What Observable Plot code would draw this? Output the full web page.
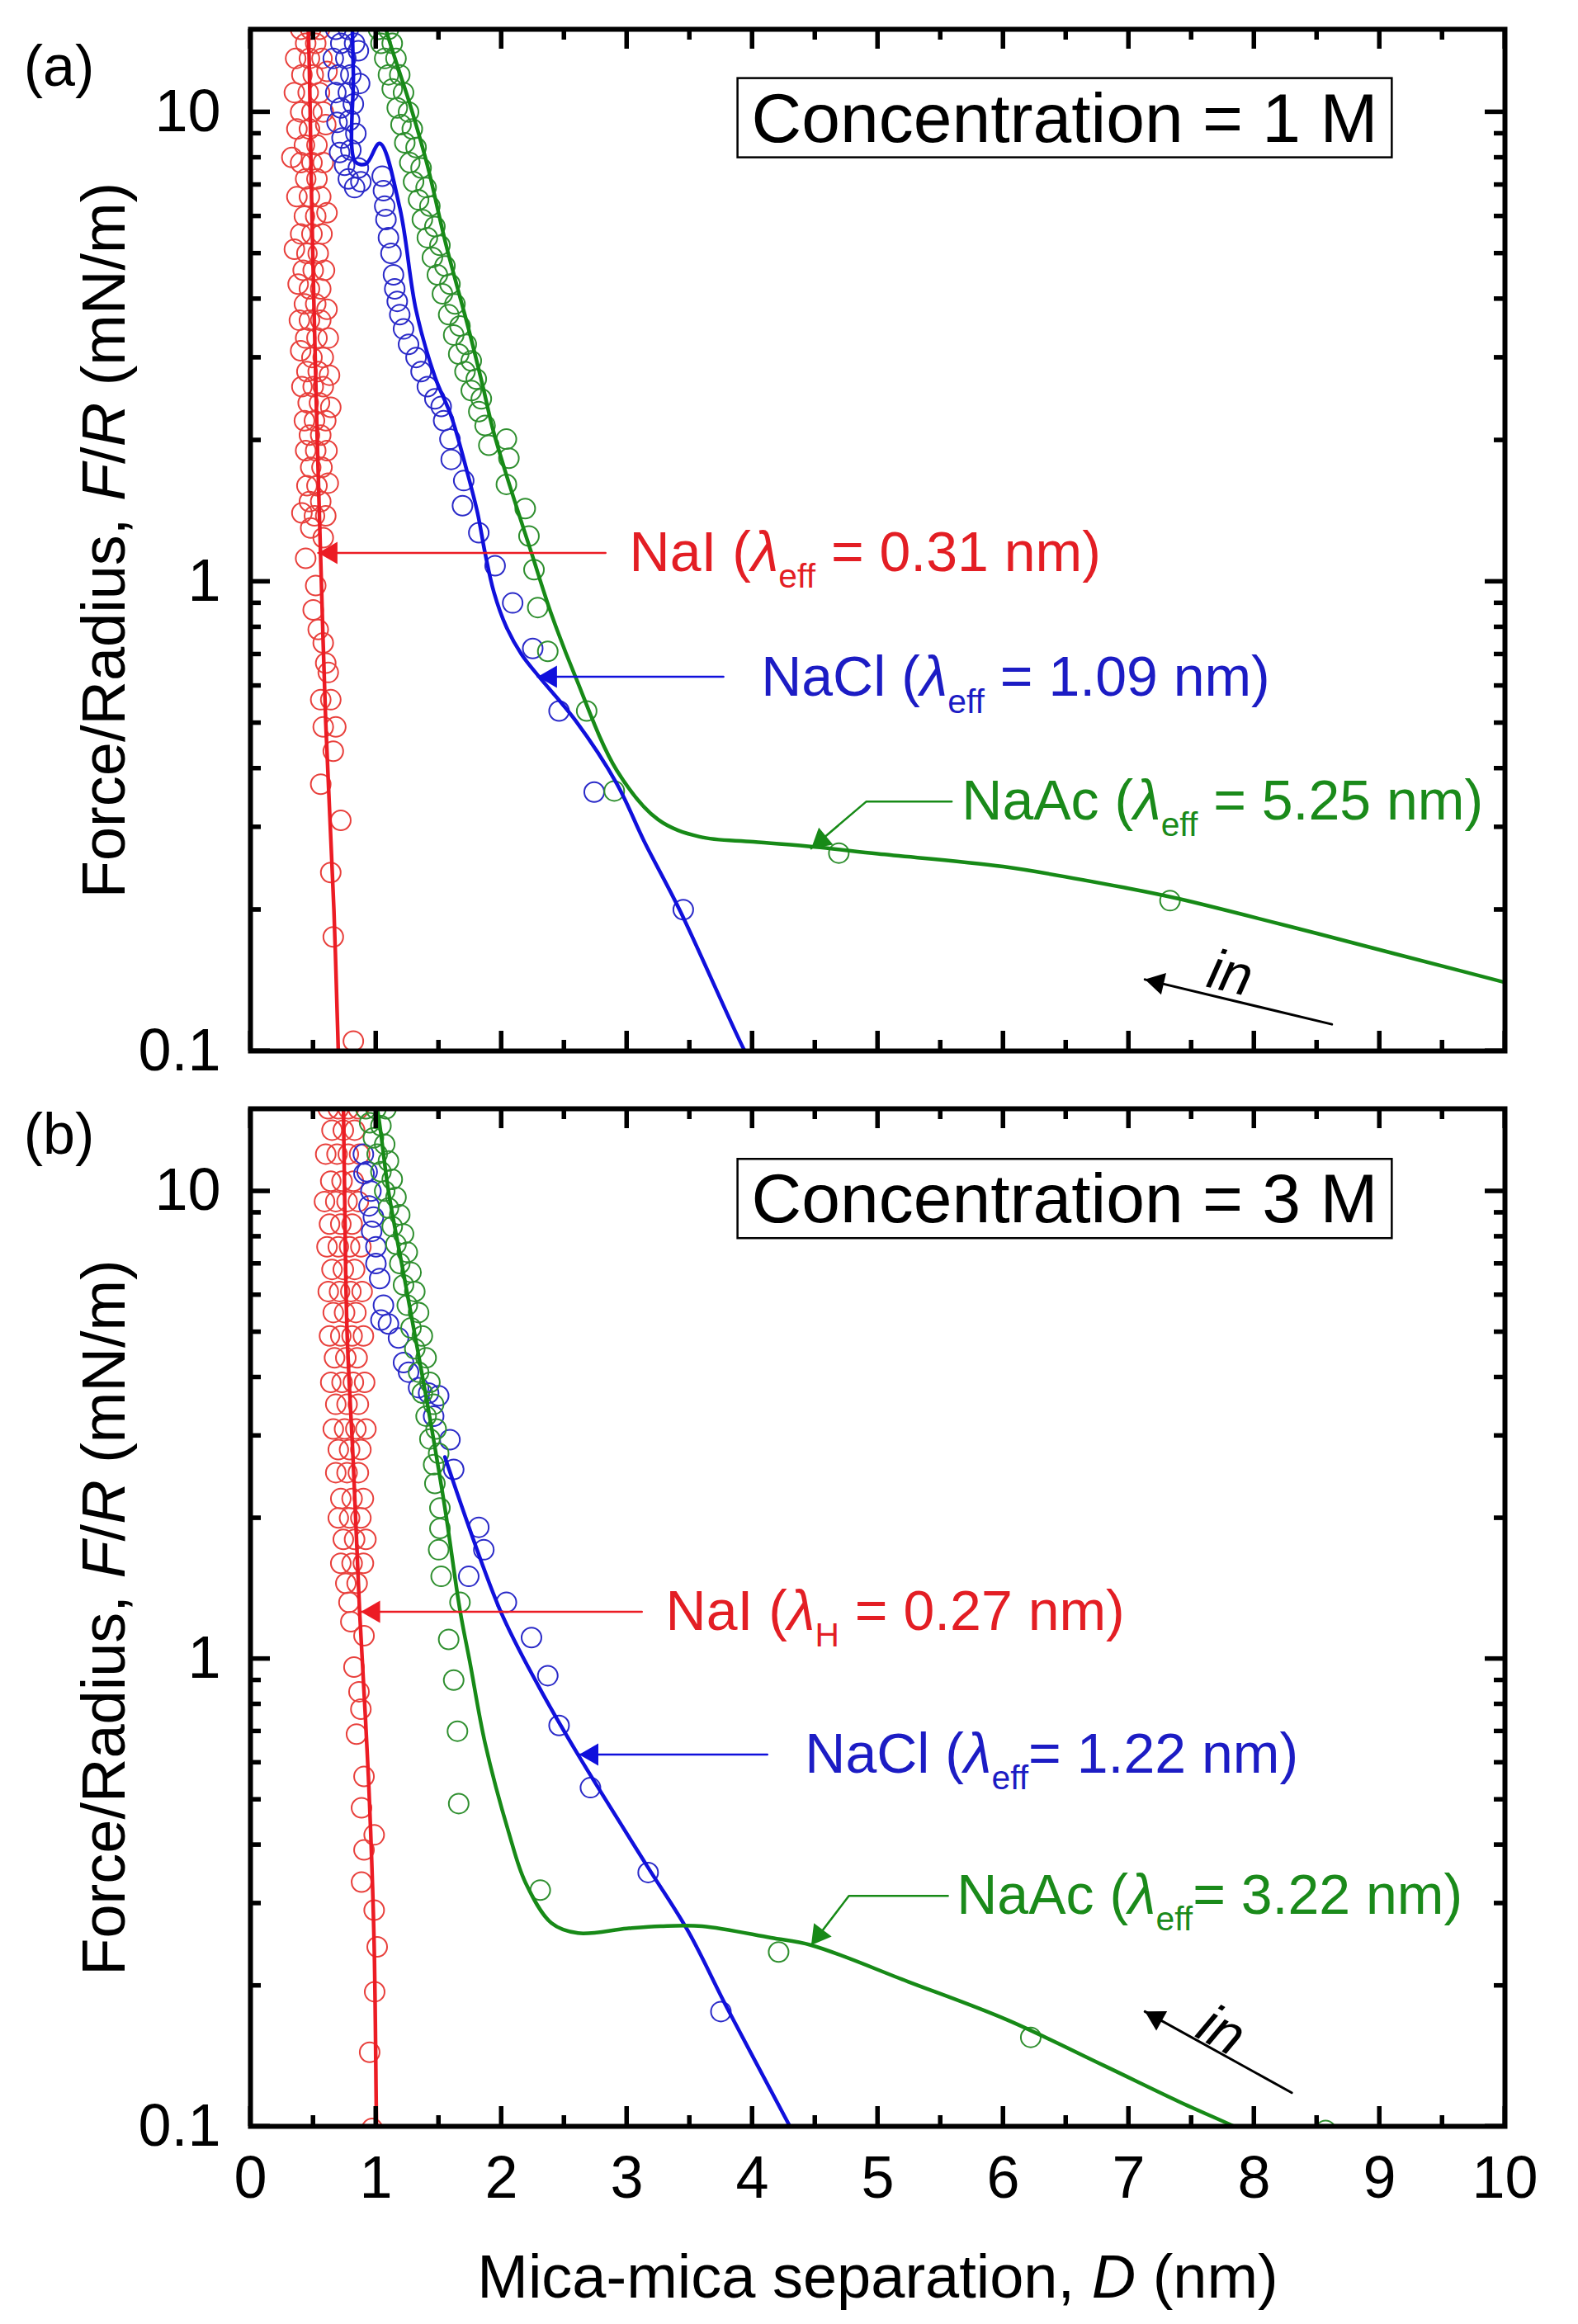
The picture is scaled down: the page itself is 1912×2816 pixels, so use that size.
<!DOCTYPE html>
<html>
<head>
<meta charset="utf-8">
<script src="https://cdn.jsdelivr.net/npm/d3@7"></script>
<script src="https://cdn.jsdelivr.net/npm/@observablehq/plot@0.6"></script>
<style>
  body { margin: 0; background: #fff; }
  #chart svg { display: block; overflow: visible; }
</style>
</head>
<body>
<div id="chart"></div>
<script>
// axis ticks
const xTicks = [0, 1, 2, 3, 4, 5, 6, 7, 8, 9, 10];
const xMinor = [0.5, 1.5, 2.5, 3.5, 4.5, 5.5, 6.5, 7.5, 8.5, 9.5];
const yTicks = [0.1, 1, 10];
const yMinor = [0.2, 0.3, 0.4, 0.5, 0.6, 0.7, 0.8, 0.9, 2, 3, 4, 5, 6, 7, 8, 9];

// ---- panel (a), 1 M : [D (nm), F/R (mN/m)]
const naiPtsA = [
  [0.40,15],[0.48,15],[0.55,15],[0.44,14],[0.52,14],[0.36,13],[0.47,13],[0.57,13],[0.41,12],[0.50,12],[0.61,12.2],
  [0.35,11],[0.46,11],[0.55,11],[0.40,10],[0.49,10],[0.58,10],[0.37,9.2],[0.47,9.2],[0.60,9.4],[0.43,8.5],[0.53,8.5],
  [0.33,8],[0.40,7.8],[0.49,7.8],[0.58,7.8],[0.44,7.2],[0.53,7.2],[0.37,6.6],[0.47,6.6],[0.56,6.6],[0.43,6],[0.52,6],
  [0.61,6.1],[0.40,5.5],[0.49,5.5],[0.57,5.5],[0.35,5.1],[0.45,5],[0.54,5],[0.42,4.6],[0.50,4.6],[0.59,4.6],[0.38,4.3],
  [0.47,4.2],[0.56,4.2],[0.43,3.9],[0.52,3.9],[0.61,3.8],[0.39,3.6],[0.47,3.6],[0.56,3.6],[0.44,3.3],[0.53,3.3],[0.62,3.3],
  [0.40,3.1],[0.49,3],[0.58,3],[0.45,2.8],[0.54,2.8],[0.63,2.75],[0.41,2.6],[0.50,2.6],[0.58,2.6],[0.46,2.4],[0.55,2.4],
  [0.64,2.35],[0.43,2.2],[0.51,2.2],[0.60,2.2],[0.47,2.05],[0.56,2.05],[0.44,1.9],[0.52,1.9],[0.61,1.9],[0.48,1.75],
  [0.57,1.75],[0.45,1.6],[0.53,1.6],[0.62,1.62],[0.47,1.48],[0.56,1.48],[0.41,1.4],[0.51,1.38],[0.60,1.38],[0.48,1.3],
  [0.44,1.12],[0.58,1.24],[0.52,0.98],[0.50,0.87],[0.54,0.79],[0.58,0.74],[0.60,0.67],[0.62,0.64],[0.56,0.56],
  [0.64,0.56],[0.58,0.49],[0.68,0.49],[0.66,0.435],[0.56,0.37],[0.72,0.31],[0.64,0.24],[0.66,0.175],[0.82,0.105]
];
const naiFitA = [[0.45,16],[0.46,15],[0.49,6],[0.53,2.1],[0.565,1],[0.60,0.5],[0.665,0.2],[0.70,0.1],[0.705,0.09]];

const naclPtsA = [
  [0.68,15],[0.78,15],[0.72,14],[0.83,14],[0.66,13],[0.76,13],[0.86,13.5],[0.70,12],[0.80,12],[0.68,11],[0.78,11],
  [0.87,11.5],[0.72,10.2],[0.82,10.4],[0.69,9.5],[0.79,9.6],[0.73,8.8],[0.84,9],[0.71,8.2],[0.80,8.3],[0.75,7.7],
  [0.86,7.6],[0.78,7.2],[0.88,7.1],[0.83,6.9],
  [1.05,7.3],[1.06,6.8],[1.07,6.3],[1.08,5.9],[1.10,5.4],[1.12,5.0],[1.14,4.5],[1.15,4.2],[1.17,3.95],[1.19,3.7],
  [1.22,3.45],[1.26,3.2],[1.32,3.0],[1.36,2.8],[1.41,2.6],[1.47,2.45],[1.52,2.36],
  [1.54,2.2],[1.59,2.01],[1.60,1.82],[1.70,1.64],[1.69,1.45],[1.82,1.27],[1.95,1.08],[2.09,0.90],[2.25,0.72],
  [2.46,0.53],[2.74,0.356],[3.45,0.2]
];
const naclFitA = [
  [0.81,16],[0.82,12],[0.835,7.84],[0.92,7.75],[1.03,8.57],[1.19,6.25],[1.32,3.78],[1.47,2.73],[1.60,2.25],
  [1.73,1.70],[1.81,1.40],[1.87,1.15],[1.94,0.95],[2.04,0.80],[2.16,0.70],[2.30,0.627],[2.59,0.506],[2.92,0.371],
  [3.14,0.279],[3.42,0.2],[3.94,0.1],[4.0,0.094]
];

const naacPtsA = [
  [1.02,15],[1.10,15],[1.04,14],[1.13,14],[1.07,13],[1.16,13],[1.10,12],[1.19,12],[1.13,11.2],[1.22,11],[1.17,10.2],
  [1.26,10],[1.20,9.4],[1.29,9.2],[1.23,8.6],[1.32,8.4],[1.27,7.8],[1.36,7.6],[1.30,7.1],[1.40,6.9],[1.34,6.5],
  [1.43,6.3],[1.37,5.9],[1.47,5.7],[1.41,5.4],[1.51,5.2],[1.45,4.9],[1.55,4.7],[1.49,4.5],[1.59,4.3],[1.53,4.1],
  [1.63,3.9],[1.58,3.7],[1.67,3.5],[1.62,3.35],[1.72,3.2],[1.66,3.05],[1.76,2.95],[1.71,2.8],[1.80,2.7],[1.76,2.55],
  [1.84,2.45],[1.82,2.3],[1.87,2.15],[1.90,1.95],
  [2.04,2.01],[2.06,1.83],[2.04,1.61],[2.19,1.43],[2.22,1.25],[2.26,1.06],[2.29,0.88],[2.37,0.71],[2.68,0.53],
  [2.90,0.358],[4.69,0.264],[7.33,0.209]
];
const naacFitA = [
  [1.06,16],[1.08,15],[1.28,10.2],[1.41,7.7],[1.56,5.2],[1.74,3.44],[1.85,2.62],[1.93,2.12],[2.03,1.72],[2.24,1.15],
  [2.40,0.85],[2.59,0.627],[2.92,0.396],[3.25,0.311],[3.58,0.286],[4.01,0.279],[4.5,0.272],[5.0,0.263],[6.0,0.247],
  [7.0,0.222],[7.4,0.211],[8.5,0.178],[10,0.14],[10.2,0.136]
];

// ---- panel (b), 3 M
const naiPtsB = [
  [0.62,15],[0.70,15],[0.78,15],[0.86,15],[0.65,13.5],[0.74,13.5],[0.83,13.5],[0.60,12],[0.69,12],[0.78,12],[0.87,12],
  [0.64,10.5],[0.73,10.5],[0.82,10.5],[0.59,9.5],[0.68,9.5],[0.77,9.5],[0.86,9.5],[0.63,8.5],[0.72,8.5],[0.81,8.5],
  [0.61,7.6],[0.70,7.6],[0.79,7.6],[0.88,7.6],[0.65,6.8],[0.74,6.8],[0.83,6.8],[0.62,6.1],[0.71,6.1],[0.80,6.1],[0.89,6.1],
  [0.66,5.5],[0.75,5.5],[0.84,5.5],[0.63,4.9],[0.72,4.9],[0.81,4.9],[0.90,4.9],[0.67,4.4],[0.76,4.4],[0.85,4.4],
  [0.64,3.9],[0.73,3.9],[0.82,3.9],[0.91,3.9],[0.68,3.5],[0.77,3.5],[0.86,3.5],[0.66,3.1],[0.75,3.1],[0.84,3.1],[0.92,3.1],
  [0.70,2.8],[0.79,2.8],[0.88,2.8],[0.68,2.5],[0.77,2.5],[0.86,2.5],[0.72,2.2],[0.81,2.2],[0.90,2.2],[0.70,2.0],[0.79,2.0],
  [0.88,2.0],[0.74,1.8],[0.83,1.8],[0.92,1.8],[0.72,1.6],[0.81,1.6],[0.90,1.6],[0.76,1.45],[0.85,1.45],
  [0.785,1.32],[0.80,1.2],[0.905,1.12],[0.825,0.96],[0.865,0.85],[0.88,0.78],[0.845,0.69],[0.905,0.56],[0.885,0.48],
  [0.986,0.42],[0.905,0.39],[0.885,0.333],[0.986,0.29],[1.01,0.242],[0.99,0.194],[0.95,0.144],[0.97,0.099]
];
const naiFitB = [[0.74,16],[0.75,10],[0.77,5],[0.82,2.6],[0.87,1.26],[0.94,0.56],[0.985,0.25],[1.005,0.1],[1.01,0.09]];

const naclPtsB = [
  [0.90,12],[0.93,11],[0.905,10.9],[0.96,10],[0.945,9.3],[0.98,8.8],[0.966,8.2],[1.0,7.6],[1.0,7.0],[1.03,6.5],
  [1.06,5.7],[1.04,5.3],[1.10,5.2],[1.18,4.85],[1.22,4.3],[1.26,4.1],[1.34,3.8],[1.42,3.7],[1.50,3.65],[1.46,3.3],
  [1.59,2.94],[1.62,2.54],[1.82,1.91],[1.86,1.71],[1.74,1.5],[2.04,1.32],[2.24,1.11],[2.37,0.92],[2.46,0.72],
  [2.71,0.53],[3.17,0.349],[3.75,0.176]
];
const naclFitB = [[1.55,2.7],[1.99,1.27],[2.30,0.87],[2.61,0.624],[3.16,0.361],[3.49,0.261],[3.80,0.179],[4.30,0.1],[4.35,0.094]];

const naacPtsB = [
  [0.92,15],[1.00,15],[1.08,15],[0.95,14],[1.04,13.8],[0.98,13],[1.07,12.6],[1.01,12],[1.10,11.6],[1.04,11],
  [1.13,10.6],[1.07,10],[1.16,9.7],[1.10,9.2],[1.19,8.9],[1.13,8.4],[1.22,8.1],[1.16,7.7],[1.25,7.4],[1.19,7.0],
  [1.28,6.7],[1.22,6.3],[1.31,6.1],[1.25,5.7],[1.34,5.5],[1.28,5.1],[1.37,4.9],[1.31,4.6],[1.40,4.4],[1.34,4.1],
  [1.43,3.9],[1.37,3.7],[1.46,3.5],[1.40,3.3],[1.48,3.1],[1.43,2.95],[1.50,2.75],[1.46,2.6],
  [1.47,2.37],[1.51,2.1],[1.51,1.9],[1.50,1.71],[1.52,1.5],[1.67,1.32],[1.58,1.1],[1.62,0.90],[1.65,0.70],
  [1.66,0.49],[2.31,0.32],[4.21,0.236],[6.22,0.155],[8.57,0.098]
];
const naacFitB = [
  [0.98,16],[1.01,15],[1.10,10],[1.23,6.45],[1.41,3.51],[1.55,2.1],[1.67,1.27],[1.75,0.98],[1.87,0.66],[2.06,0.424],
  [2.19,0.333],[2.40,0.272],[2.61,0.259],[3.0,0.265],[3.27,0.268],[3.6,0.268],[4.15,0.253],[4.47,0.244],[5.24,0.204],
  [6.03,0.169],[6.8,0.135],[7.4,0.113],[7.91,0.098],[8.0,0.095]
];

// annotations: label anchor, leader polyline (last point = arrow tip)
const labelsA = [
  {x: 3.02, y: 1.15, text: "NaI (*λ*_{eff} = 0.31 nm)"},
  {x: 4.07, y: 0.623, text: "NaCl (*λ*_{eff} = 1.09 nm)"},
  {x: 5.67, y: 0.34, text: "NaAc (*λ*_{eff} = 5.25 nm)"}
];
const leadersA = [
  [[2.83, 1.15], [0.54, 1.15]],
  [[3.77, 0.627], [2.29, 0.627]],
  [[5.59, 0.34], [4.91, 0.34], [4.47, 0.27]]
];
const inArrowA = [[8.62, 0.114], [7.13, 0.142]];
const inLabelA = {x: 7.81, y: 0.146};
const concA = {x: 6.49, y: 9.64, text: "Concentration = 1 M"};

const labelsB = [
  {x: 3.31, y: 1.26, text: "NaI (*λ*_{H} = 0.27 nm)"},
  {x: 4.42, y: 0.624, text: "NaCl (*λ*_{eff}= 1.22 nm)"},
  {x: 5.63, y: 0.311, text: "NaAc (*λ*_{eff}= 3.22 nm)"}
];
const leadersB = [
  [[3.12, 1.26], [0.88, 1.26]],
  [[4.12, 0.624], [2.62, 0.624]],
  [[5.56, 0.311], [4.77, 0.311], [4.47, 0.244]]
];
const inArrowB = [[8.30, 0.118], [7.13, 0.176]];
const inLabelB = {x: 7.74, y: 0.16};
const concB = {x: 6.49, y: 9.56, text: "Concentration = 3 M"};

const RED = {pt: "#e8403c", line: "#ec1c24", text: "#e31e24"};
const BLUE = {pt: "#2a2ac8", line: "#1010dc", text: "#1c1cc4"};
const GREEN = {pt: "#2f8f2f", line: "#178a17", text: "#1a8a1a"};
const FONT = "'Liberation Sans', Arial, Helvetica, sans-serif";

const X = d => d[0], Y = d => d[1];
const XDOM = [0, 10], YDOM = [0.1, 15];
const ML = 303, MR = 89, W = 1912;

// filled triangular head whose tip sits on pt, pointing along angle (deg, 0 = up)
function head(pt, angle, color) {
  const a = angle * Math.PI / 180, off = 15.5;
  return Plot.dot([pt], {x: X, y: Y, symbol: "triangle", r: 10, fill: color, stroke: "none",
    rotate: angle, dx: -off * Math.sin(a), dy: off * Math.cos(a)});
}

// inward ticks on all four sides as short rules (length given in pixels)
function ruleTicks(ph) {
  const kx = (XDOM[1] - XDOM[0]) / (W - ML - MR);
  const ky = Math.log10(YDOM[1] / YDOM[0]) / ph;
  const st = {stroke: "black", strokeWidth: 5};
  const out = [];
  for (const [vals, len] of [[xTicks, 24], [xMinor, 13]]) {
    const f = Math.pow(10, len * ky);
    out.push(Plot.ruleX(vals, {x: d => d, y1: YDOM[0], y2: YDOM[0] * f, ...st}));
    out.push(Plot.ruleX(vals, {x: d => d, y1: YDOM[1], y2: YDOM[1] / f, ...st}));
  }
  for (const [vals, len] of [[yTicks, 24], [yMinor, 13]]) {
    out.push(Plot.ruleY(vals, {y: d => d, x1: XDOM[0], x2: XDOM[0] + len * kx, ...st}));
    out.push(Plot.ruleY(vals, {y: d => d, x1: XDOM[1], x2: XDOM[1] - len * kx, ...st}));
  }
  return out;
}

function panel(o) {
  const cols = [RED, BLUE, GREEN];
  const ph = o.height - o.mt - o.mb;
  const marks = [];
  o.pts.forEach((p, i) => marks.push(Plot.dot(p, {x: X, y: Y, r: 12, stroke: cols[i].pt, strokeWidth: 2, fill: "none", clip: true})));
  o.fits.forEach((f, i) => marks.push(Plot.line(f, {x: X, y: Y, stroke: cols[i].line, strokeWidth: 4.5, curve: "catmull-rom", clip: true})));
  o.leaders.forEach((l, i) => {
    marks.push(Plot.line(l, {x: X, y: Y, stroke: cols[i].line, strokeWidth: 2.5}));
    marks.push(head(l[l.length - 1], o.headAngles[i], cols[i].line));
  });
  o.labels.forEach((l, i) => marks.push(Plot.text([l], {x: "x", y: "y", text: "text", fill: cols[i].text, fontSize: 68, textAnchor: "start"})));
  marks.push(
    Plot.line(o.inArrow, {x: X, y: Y, stroke: "black", strokeWidth: 3}),
    head(o.inArrow[1], o.inHead, "black"),
    Plot.text([o.inLabel], {x: "x", y: "y", text: () => "in", fontSize: 68, fontStyle: "italic", rotate: o.inRotate}),
    Plot.text([o.conc], {x: "x", y: "y", text: "text", fontSize: 84}),
    ...ruleTicks(ph),
    Plot.axisY(yTicks, {anchor: "left", tickSize: 0, tickPadding: 36, tickFormat: d => String(d), label: null}),
    Plot.frame({stroke: "black", strokeWidth: 6}),
    Plot.text([o.tag], {frameAnchor: "top-left", text: d => d, dx: -232, dy: o.tagDy, fontSize: 70, textAnchor: "middle", lineAnchor: "middle"}),
    Plot.text(["Force/Radius, *F*/*R* (mN/m)"], {frameAnchor: "left", text: d => d, rotate: -90, dx: -176, fontSize: 74, textAnchor: "middle", lineAnchor: "middle"})
  );
  if (o.xLabels) marks.push(
    Plot.axisX(xTicks, {anchor: "bottom", tickSize: 0, tickPadding: 35, tickFormat: d => String(d), label: null}),
    Plot.text(["Mica-mica separation, *D* (nm)"], {frameAnchor: "bottom", text: d => d, dy: 184, fontSize: 74, textAnchor: "middle", lineAnchor: "middle"})
  );
  return Plot.plot({
    width: W,
    height: o.height,
    marginLeft: ML,
    marginRight: MR,
    marginTop: o.mt,
    marginBottom: o.mb,
    x: {domain: XDOM, axis: null},
    y: {type: "log", domain: YDOM, axis: null},
    style: {fontFamily: FONT, fontSize: "72px", background: "white", color: "black"},
    marks
  });
}

const chartA = panel({
  height: 1320, mt: 35, mb: 47, tag: "(a)", tagDy: 46,
  pts: [naiPtsA, naclPtsA, naacPtsA], fits: [naiFitA, naclFitA, naacFitA],
  labels: labelsA, leaders: leadersA, headAngles: [-90, -90, -130],
  inArrow: inArrowA, inHead: -77, inLabel: inLabelA, inRotate: 13, conc: concA, xLabels: false
});
const chartB = panel({
  height: 1496, mt: 23, mb: 240, tag: "(b)", tagDy: 32,
  pts: [naiPtsB, naclPtsB, naacPtsB], fits: [naiFitB, naclFitB, naacFitB],
  labels: labelsB, leaders: leadersB, headAngles: [-90, -90, -143],
  inArrow: inArrowB, inHead: -61, inLabel: inLabelB, inRotate: 29, conc: concB, xLabels: true
});

d3.select("#chart").append(() => chartA);
d3.select("#chart").append(() => chartB);

// italic (*..*) and subscript (_{..}) runs inside text
function rich(el) {
  const s = el.textContent;
  if (!/\*|_\{/.test(s)) return;
  const fs = parseFloat(getComputedStyle(el).fontSize);
  const sel = d3.select(el).text("");
  const re = /\*([^*]+)\*|_\{([^}]+)\}|([^*_]+)/g;
  let m, low = false;
  while ((m = re.exec(s))) {
    const t = sel.append("tspan");
    if (m[2]) {
      t.attr("font-size", fs * 0.6).attr("dy", fs * 0.3).text(m[2]);
      low = true;
    } else {
      if (low) { t.attr("dy", -fs * 0.3); low = false; }
      if (m[1]) t.attr("font-style", "italic").text(m[1]);
      else t.text(m[3]);
    }
  }
}
d3.selectAll("#chart text").each(function() { rich(this); });

// box round the concentration labels
d3.selectAll("#chart text")
  .filter(function() { return this.textContent.startsWith("Concentration"); })
  .each(function() {
    const b = this.getBBox();
    d3.select(this.parentNode).insert("rect", () => this)
      .attr("transform", this.getAttribute("transform"))
      .attr("x", b.x - 17).attr("y", b.y - 1)
      .attr("width", b.width + 34).attr("height", b.height + 2)
      .attr("fill", "white").attr("stroke", "black").attr("stroke-width", 2.5);
  });

// fallback: the same inward ticks drawn on top, with d3 scales matching the plots
[[chartA, 1320, 35, 47], [chartB, 1496, 23, 240]].forEach(([chart, h, mt, mb]) => {
  try {
    const sx = d3.scaleLinear(XDOM, [ML, W - MR]);
    const sy = d3.scaleLog(YDOM, [h - mb, mt]);
    const yb = h - mb, yt = mt, xl = ML, xr = W - MR;
    const g = d3.select(chart).append("g").attr("stroke", "black").attr("stroke-width", 5);
    for (const [vals, len] of [[xTicks, 24], [xMinor, 13]]) for (const v of vals) {
      const x = sx(v);
      g.append("line").attr("x1", x).attr("x2", x).attr("y1", yb).attr("y2", yb - len);
      g.append("line").attr("x1", x).attr("x2", x).attr("y1", yt).attr("y2", yt + len);
    }
    for (const [vals, len] of [[yTicks, 24], [yMinor, 13]]) for (const v of vals) {
      const y = sy(v);
      g.append("line").attr("y1", y).attr("y2", y).attr("x1", xl).attr("x2", xl + len);
      g.append("line").attr("y1", y).attr("y2", y).attr("x1", xr).attr("x2", xr - len);
    }
  } catch (e) { /* ticks above are enough */ }
});
</script>
</body>
</html>
